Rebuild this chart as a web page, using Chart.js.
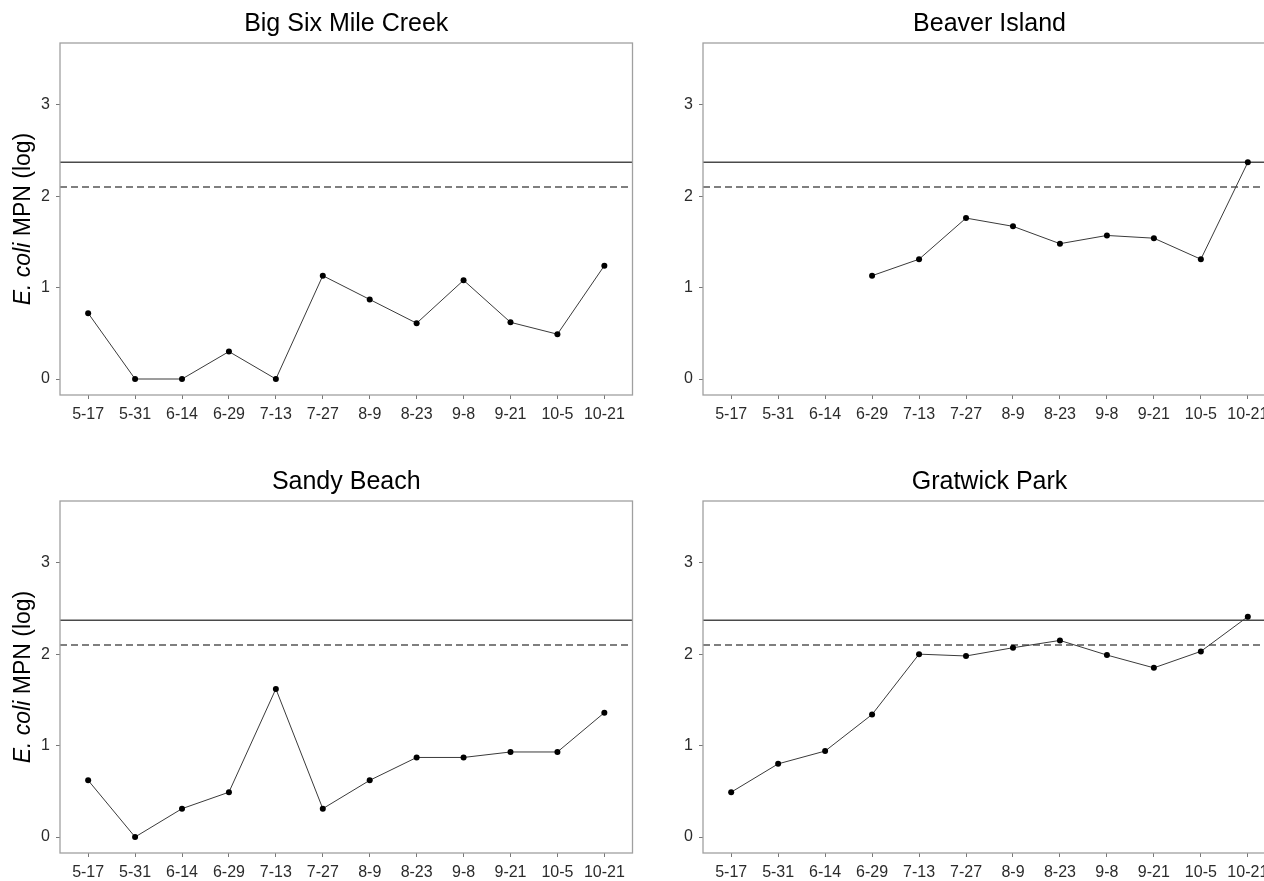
<!DOCTYPE html>
<html>
<head>
<meta charset="utf-8">
<script src="https://cdn.jsdelivr.net/npm/chart.js@4.4.1/dist/chart.umd.min.js"></script>
<style>
  html, body { margin: 0; padding: 0; background: #fff; overflow: hidden; width: 1264px; height: 881px; position: relative; }
  canvas { position: absolute; }
</style>
</head>
<body>
<canvas id="bigSix" width="640" height="440" style="left:0px;top:0px"></canvas>
<canvas id="beaver" width="640" height="440" style="left:640px;top:0px"></canvas>
<canvas id="sandy" width="640" height="440" style="left:0px;top:458px"></canvas>
<canvas id="gratwick" width="640" height="440" style="left:640px;top:458px"></canvas>
<script>
const dates = ['5-17', '5-31', '6-14', '6-29', '7-13', '7-27', '8-9', '8-23', '9-8', '9-21', '10-5', '10-21'];

const bigSixMile = [0.72, 0, 0, 0.30, 0, 1.13, 0.87, 0.61, 1.08, 0.62, 0.49, 1.24];
const beaverIsland = [null, null, null, 1.13, 1.31, 1.76, 1.67, 1.48, 1.57, 1.54, 1.31, 2.37];
const sandyBeach = [0.62, 0, 0.31, 0.49, 1.62, 0.31, 0.62, 0.87, 0.87, 0.93, 0.93, 1.36];
const gratwickPark = [0.49, 0.80, 0.94, 1.34, 2.00, 1.98, 2.07, 2.15, 1.99, 1.85, 2.03, 2.41];

const yTicks = [0, 1, 2, 3];
const singleSampleLimit = 2.371;   // solid line
const geoMeanLimit = 2.1;          // dashed line

const FONT = "'Liberation Sans', Arial, sans-serif";

function makePanel(id, title, values, showYTitle, yWidth, padRight) {
  const ctx = document.getElementById(id).getContext('2d');

  const panelPlugin = {
    id: 'panel_' + id,
    beforeDatasetsDraw(chart) {
      const c = chart.ctx, a = chart.chartArea, ys = chart.scales.y;
      c.save();
      c.strokeStyle = '#4a4a4a';
      c.lineWidth = 1.5;
      let y = ys.getPixelForValue(singleSampleLimit);
      c.beginPath(); c.moveTo(a.left, y); c.lineTo(a.right, y); c.stroke();
      c.strokeStyle = '#555';
      c.setLineDash([7, 4]);
      y = ys.getPixelForValue(geoMeanLimit);
      c.beginPath(); c.moveTo(a.left, y); c.lineTo(a.right, y); c.stroke();
      c.restore();
    },
    afterDraw(chart) {
      const c = chart.ctx, a = chart.chartArea;
      c.save();
      c.strokeStyle = '#a0a0a0';
      c.lineWidth = 1.3;
      c.strokeRect(a.left, a.top, a.right - a.left, a.bottom - a.top);

      c.fillStyle = '#000';
      c.font = '25px ' + FONT;
      c.textAlign = 'center';
      c.textBaseline = 'alphabetic';
      c.fillText(title, (a.left + a.right) / 2, a.top - 12);

      if (showYTitle) {
        const cy = (a.top + a.bottom) / 2;
        c.translate(30, cy);
        c.rotate(-Math.PI / 2);
        c.textAlign = 'left';
        const italicFont = 'italic 23px ' + FONT;
        const plainFont = '23px ' + FONT;
        c.font = italicFont;
        const w1 = c.measureText('E. coli').width;
        c.font = plainFont;
        const w2 = c.measureText(' MPN (log)').width;
        const x0 = -(w1 + w2) / 2;
        c.font = italicFont;
        c.fillText('E. coli', x0, 0);
        c.font = plainFont;
        c.fillText(' MPN (log)', x0 + w1, 0);
      }
      c.restore();
    }
  };

  return new Chart(ctx, {
    type: 'line',
    data: {
      datasets: [{
        data: values.map((v, i) => ({ x: i, y: v })),
        borderColor: '#3a3a3a',
        borderWidth: 1,
        pointRadius: 3,
        pointBackgroundColor: '#000',
        pointBorderColor: '#000',
        pointBorderWidth: 0,
        spanGaps: false,
        tension: 0
      }]
    },
    options: {
      responsive: false,
      animation: false,
      layout: { padding: { top: 43, right: padRight, left: 0, bottom: 0 } },
      plugins: {
        legend: { display: false },
        tooltip: { enabled: false },
        title: { display: false }
      },
      scales: {
        x: {
          type: 'linear',
          min: -0.6,
          max: dates.length - 1 + 0.6,
          afterBuildTicks: s => { s.ticks = dates.map((d, i) => ({ value: i })); },
          afterFit: s => { s.height = 45; },
          ticks: {
            callback: v => dates[v],
            autoSkip: false,
            maxRotation: 0,
            color: '#2b2b2b',
            font: { family: FONT, size: 16 },
            padding: 6
          },
          grid: { drawOnChartArea: false, tickLength: 4, tickColor: '#777', color: '#777' },
          border: { display: false }
        },
        y: {
          min: -0.175,
          max: 3.675,
          afterBuildTicks: s => { s.ticks = yTicks.map(v => ({ value: v })); },
          afterFit: s => { s.width = yWidth; },
          ticks: {
            color: '#2b2b2b',
            font: { family: FONT, size: 16 },
            padding: 6
          },
          grid: { drawOnChartArea: false, tickLength: 4, tickColor: '#777', color: '#777' },
          border: { display: false }
        }
      }
    },
    plugins: [panelPlugin]
  });
}

makePanel('bigSix', 'Big Six Mile Creek', bigSixMile, true, 60, 7.5);
makePanel('beaver', 'Beaver Island', beaverIsland, false, 63, 4);
makePanel('sandy', 'Sandy Beach', sandyBeach, true, 60, 7.5);
makePanel('gratwick', 'Gratwick Park', gratwickPark, false, 63, 4);
</script>
</body>
</html>
